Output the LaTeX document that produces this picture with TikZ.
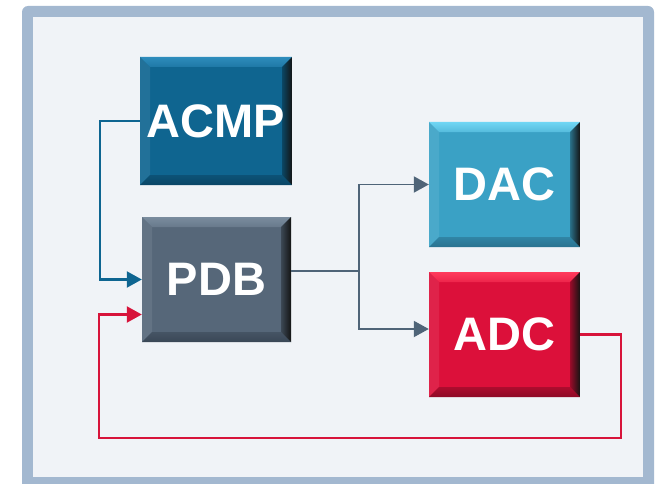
\documentclass[tikz,border=0pt]{standalone}
\usepackage{fontspec}
\setmainfont{Liberation Sans}
\usetikzlibrary{arrows.meta}
\definecolor{framec}{HTML}{A3B8D0}
\definecolor{bgc}{HTML}{F0F3F7}
\definecolor{acmpc}{HTML}{0F6590}
\definecolor{acmpl}{HTML}{2E8CBC}
\definecolor{acmpd}{HTML}{0A4666}
\definecolor{pdbc}{HTML}{566779}
\definecolor{pdbl}{HTML}{7A8C9E}
\definecolor{pdbd}{HTML}{3A4756}
\definecolor{dacc}{HTML}{3AA1C5}
\definecolor{dacl}{HTML}{70D6F4}
\definecolor{dacd}{HTML}{2A7290}
\definecolor{adcc}{HTML}{DC103A}
\definecolor{adcl}{HTML}{FF3A5C}
\definecolor{adcd}{HTML}{8E0A26}
\definecolor{bluel}{HTML}{0E6591}
\definecolor{redl}{HTML}{D7133A}
\definecolor{grayl}{HTML}{4F6478}
\begin{document}
\begin{tikzpicture}[x=1pt,y=-1pt,
  blk/.style n args={4}{fill=#1, inner sep=0pt, text=white,
    font=\bfseries\fontsize{47}{47}\selectfont,
    path picture={
      \path (path picture bounding box.north west) coordinate (pnw)
            (path picture bounding box.north east) coordinate (pne)
            (path picture bounding box.south west) coordinate (psw)
            (path picture bounding box.south east) coordinate (pse);
      \fill[#1!92!white] (pnw) -- ([shift={(10pt,-10pt)}]pnw) -- ([shift={(10pt,10pt)}]psw) -- (psw) -- cycle;
      \shade[top color=#2, bottom color=#2!50!#1] (pnw) -- (pne) -- ([shift={(-10pt,-10pt)}]pne) -- ([shift={(10pt,-10pt)}]pnw) -- cycle;
      \shade[top color=#3!60!#1, bottom color=#3] (psw) -- (pse) -- ([shift={(-10pt,10pt)}]pse) -- ([shift={(10pt,10pt)}]psw) -- cycle;
      \shade[left color=#1!70!black, right color=black!92] (pne) -- (pse) -- ([shift={(-10pt,10pt)}]pse) -- ([shift={(-10pt,-10pt)}]pne) -- cycle;
    }},
  conn/.style={line width=#1, -{Triangle[length=15pt,width=16pt]}},
  plain/.style={line width=#1}]
\useasboundingbox (0,0) rectangle (658,484);
\fill[framec, rounded corners=6pt] (22,6) rectangle (654,500);
\fill[bgc] (33,17) rectangle (643,477);

\node[blk={acmpc}{acmpl}{acmpd}{}, minimum width=152pt, minimum height=128pt] (ACMP) at (216,121) {ACMP};
\node[blk={pdbc}{pdbl}{pdbd}{}, minimum width=149pt, minimum height=125pt] (PDB) at (216.5,279.5) {PDB};
\node[blk={dacc}{dacl}{dacd}{}, minimum width=151pt, minimum height=125pt] (DAC) at (504.5,184.5) {DAC};
\node[blk={adcc}{adcl}{adcd}{}, minimum width=151pt, minimum height=125pt] (ADC) at (504.5,334.5) {ADC};

\coordinate (bl) at (100,121);
\coordinate (gj) at (359,271);
\coordinate (r1) at (621,438);
\coordinate (r2) at (99,438);

\draw[conn=2.2pt, bluel] (ACMP.west) -- (bl) |- (PDB.west);
\draw[conn=2.2pt, redl] (ADC.east) -| (r1) -- (r2) |- ([yshift=-35pt]PDB.west);
\draw[plain=1.9pt, grayl] ([yshift=8.5pt]PDB.east) -- (gj);
\draw[conn=1.9pt, grayl] (gj) |- (DAC.west);
\draw[conn=1.9pt, grayl] (gj) |- ([yshift=5.5pt]ADC.west);
\end{tikzpicture}
\end{document}
